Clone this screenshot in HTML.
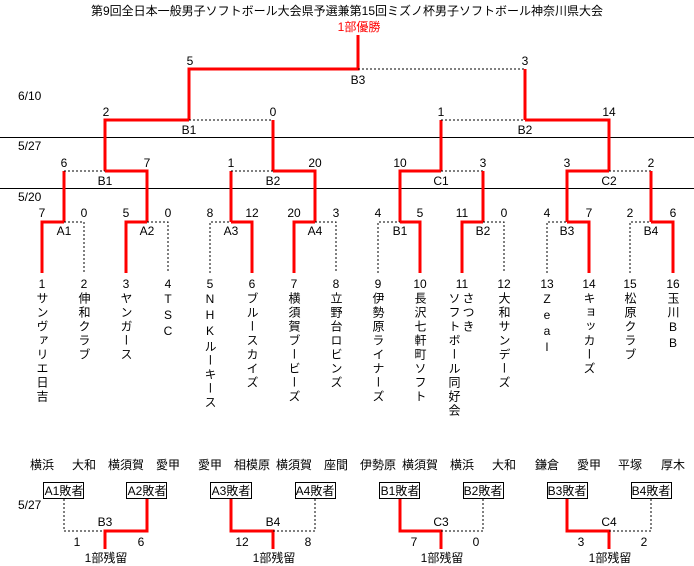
<!DOCTYPE html>
<html><head><meta charset="utf-8"><style>
html,body{margin:0;padding:0;background:#fff;width:694px;height:566px;overflow:hidden}
svg{display:block}
text{font-family:"Liberation Sans","Noto Sans CJK JP",sans-serif;font-size:12px;fill:#000}
.v{writing-mode:vertical-rl;text-orientation:upright;letter-spacing:2px;font-size:12px}
.r{stroke:#f00;stroke-width:3;fill:none}
.d{stroke:#000;stroke-width:1;stroke-dasharray:2,2;fill:none}
.k{stroke:#000;stroke-width:1;fill:none}
</style></head><body>
<svg width="694" height="566" viewBox="0 0 694 566">
<text x="347" y="15" text-anchor="middle" font-size="12">第9回全日本一般男子ソフトボール大会県予選兼第15回ミズノ杯男子ソフトボール神奈川県大会</text>
<text x="359" y="31" text-anchor="middle" style="fill:#f00">1部優勝</text>
<!-- horizontal separators -->
<line class="k" x1="0" y1="137.5" x2="694" y2="137.5"/>
<line class="k" x1="0" y1="188.5" x2="694" y2="188.5"/>
<text x="18" y="100">6/10</text>
<text x="18" y="150">5/27</text>
<text x="18" y="201">5/20</text>
<!-- final -->
<path class="r" d="M358 35V69H189V120"/>
<path class="d" d="M358 69H525"/>
<path class="r" d="M525 69V120"/>
<text x="190" y="65" text-anchor="middle">5</text>
<text x="525" y="65" text-anchor="middle">3</text>
<text x="358" y="84" text-anchor="middle">B3</text>
<!-- level 2 -->
<path class="r" d="M105 171V120H189"/><path class="d" d="M189 120H273"/><path class="r" d="M273 120V171"/>
<path class="r" d="M441 171V120"/><path class="d" d="M441 120H525"/><path class="r" d="M525 120H609V171"/>
<text x="106" y="116" text-anchor="middle">2</text><text x="273" y="116" text-anchor="middle">0</text>
<text x="441" y="116" text-anchor="middle">1</text><text x="609" y="116" text-anchor="middle">14</text>
<text x="189" y="134" text-anchor="middle">B1</text><text x="525" y="134" text-anchor="middle">B2</text>
<!-- level 3 -->
<path class="r" d="M64 222V171"/><path class="d" d="M64 171H105"/><path class="r" d="M105 171H147V222"/>
<path class="r" d="M231 222V171"/><path class="d" d="M231 171H273"/><path class="r" d="M273 171H315V222"/>
<path class="r" d="M400 222V171H441"/><path class="d" d="M441 171H483"/><path class="r" d="M483 171V222"/>
<path class="r" d="M567 222V171H609"/><path class="d" d="M609 171H651"/><path class="r" d="M651 171V222"/>
<text x="64" y="167" text-anchor="middle">6</text><text x="147" y="167" text-anchor="middle">7</text>
<text x="231" y="167" text-anchor="middle">1</text><text x="315" y="167" text-anchor="middle">20</text>
<text x="400" y="167" text-anchor="middle">10</text><text x="483" y="167" text-anchor="middle">3</text>
<text x="567" y="167" text-anchor="middle">3</text><text x="651" y="167" text-anchor="middle">2</text>
<text x="105" y="185" text-anchor="middle">B1</text><text x="273" y="185" text-anchor="middle">B2</text>
<text x="441" y="185" text-anchor="middle">C1</text><text x="609" y="185" text-anchor="middle">C2</text>
<!-- level 4 -->
<path class="r" d="M42 273V222H64"/><path class="d" d="M64 222H84V273"/>
<path class="r" d="M126 273V222H147"/><path class="d" d="M147 222H168V273"/>
<path class="d" d="M210 273V222H231"/><path class="r" d="M231 222H252V273"/>
<path class="r" d="M294 273V222H315"/><path class="d" d="M315 222H336V273"/>
<path class="d" d="M378 273V222H400"/><path class="r" d="M400 222H420V273"/>
<path class="r" d="M462 273V222H483"/><path class="d" d="M483 222H504V273"/>
<path class="d" d="M547 273V222H567"/><path class="r" d="M567 222H589V273"/>
<path class="d" d="M630 273V222H651"/><path class="r" d="M651 222H673V273"/>
<g text-anchor="middle">
<text x="42" y="217">7</text><text x="84" y="217">0</text><text x="126" y="217">5</text><text x="168" y="217">0</text>
<text x="210" y="217">8</text><text x="252" y="217">12</text><text x="294" y="217">20</text><text x="336" y="217">3</text>
<text x="378" y="217">4</text><text x="420" y="217">5</text><text x="462" y="217">11</text><text x="504" y="217">0</text>
<text x="547" y="217">4</text><text x="589" y="217">7</text><text x="630" y="217">2</text><text x="673" y="217">6</text>
<text x="64" y="235">A1</text><text x="147" y="235">A2</text><text x="231" y="235">A3</text><text x="315" y="235">A4</text>
<text x="400" y="235">B1</text><text x="483" y="235">B2</text><text x="567" y="235">B3</text><text x="651" y="235">B4</text>
<text x="42" y="288">1</text><text x="84" y="288">2</text><text x="126" y="288">3</text><text x="168" y="288">4</text>
<text x="210" y="288">5</text><text x="252" y="288">6</text><text x="294" y="288">7</text><text x="336" y="288">8</text>
<text x="378" y="288">9</text><text x="420" y="288">10</text><text x="462" y="288">11</text><text x="504" y="288">12</text>
<text x="547" y="288">13</text><text x="589" y="288">14</text><text x="630" y="288">15</text><text x="673" y="288">16</text>
</g>
<text class="v" x="42" y="292">サンヴァリエ日吉</text>
<text class="v" x="84" y="292">伸和クラブ</text>
<text class="v" x="126" y="292">ヤンガース</text>
<text class="v" x="168" y="292">TSC</text>
<text class="v" x="210" y="292">NHKルーキース</text>
<text class="v" x="252" y="292">ブルースカイズ</text>
<text class="v" x="294" y="292">横須賀ブービーズ</text>
<text class="v" x="336" y="292">立野台ロビンズ</text>
<text class="v" x="378" y="292">伊勢原ライナーズ</text>
<text class="v" x="420" y="292">長沢七軒町ソフト</text>
<text class="v" x="468" y="292">さつき</text>
<text class="v" x="454" y="292">ソフトボール同好会</text>
<text class="v" x="504" y="292">大和サンデーズ</text>
<text class="v" x="547" y="292">Zeal</text>
<text class="v" x="589" y="292">キョッカーズ</text>
<text class="v" x="630" y="292">松原クラブ</text>
<text class="v" x="673" y="292">玉川BB</text>
<!-- bottom -->
<g text-anchor="middle">
<text x="42" y="469">横浜</text><text x="84" y="469">大和</text><text x="126" y="469">横須賀</text><text x="168" y="469">愛甲</text>
<text x="210" y="469">愛甲</text><text x="252" y="469">相模原</text><text x="294" y="469">横須賀</text><text x="336" y="469">座間</text>
<text x="378" y="469">伊勢原</text><text x="420" y="469">横須賀</text><text x="462" y="469">横浜</text><text x="504" y="469">大和</text>
<text x="547" y="469">鎌倉</text><text x="589" y="469">愛甲</text><text x="630" y="469">平塚</text><text x="673" y="469">厚木</text>
</g>
<text x="18" y="509">5/27</text>
<g class="k">
<rect x="43.5" y="482.5" width="40" height="16"/><rect x="126.5" y="482.5" width="40" height="16"/>
<rect x="210.5" y="482.5" width="41" height="16"/><rect x="295.5" y="482.5" width="40" height="16"/>
<rect x="379.5" y="482.5" width="40" height="16"/><rect x="463.5" y="482.5" width="40" height="16"/>
<rect x="547.5" y="482.5" width="40" height="16"/><rect x="631.5" y="482.5" width="40" height="16"/>
</g>
<g text-anchor="middle">
<text x="64" y="495">A1敗者</text><text x="147" y="495">A2敗者</text><text x="231" y="495">A3敗者</text><text x="315" y="495">A4敗者</text>
<text x="400" y="495">B1敗者</text><text x="483" y="495">B2敗者</text><text x="567" y="495">B3敗者</text><text x="651" y="495">B4敗者</text>
</g>
<path class="d" d="M64 499V531H105"/><path class="r" d="M147 499V531H105V549"/>
<path class="r" d="M231 499V531H273V549"/><path class="d" d="M273 531H315V499"/>
<path class="r" d="M400 499V531H441V549"/><path class="d" d="M441 531H483V499"/>
<path class="r" d="M567 499V531H609V549"/><path class="d" d="M609 531H651V499"/>
<g text-anchor="middle">
<text x="105" y="526">B3</text><text x="273" y="526">B4</text><text x="441" y="526">C3</text><text x="609" y="526">C4</text>
<text x="77" y="546">1</text><text x="141" y="546">6</text>
<text x="242" y="546">12</text><text x="308" y="546">8</text>
<text x="414" y="546">7</text><text x="476" y="546">0</text>
<text x="581" y="546">3</text><text x="644" y="546">2</text>
<text x="106" y="562">1部残留</text><text x="274" y="562">1部残留</text><text x="442" y="562">1部残留</text><text x="610" y="562">1部残留</text>
</g>
</svg>
</body></html>
